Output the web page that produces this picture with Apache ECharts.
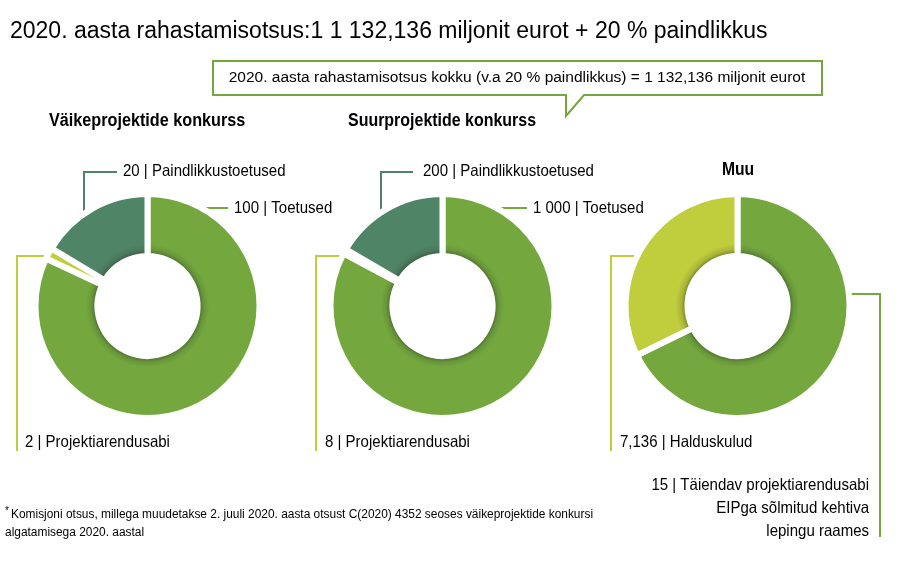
<!DOCTYPE html>
<html><head><meta charset="utf-8">
<script src="https://cdn.jsdelivr.net/npm/echarts@6/dist/echarts.min.js"></script>
<style>html,body{margin:0;padding:0;background:#fff}#c{width:915px;height:565px}</style>
</head><body><div id="c"></div>
<script>
// ---- data ----
const smallNames = ['Toetused', 'Projektiarendusabi', 'Paindlikkustoetused'];
const smallValues = [100, 2, 20];
const smallValueText = ['100', '2', '20'];
const largeNames = ['Toetused', 'Projektiarendusabi', 'Paindlikkustoetused'];
const largeValues = [1000, 8, 200];
const largeValueText = ['1 000', '8', '200'];
const otherNames = ['Täiendav projektiarendusabi', 'Halduskulud'];
const otherValues = [15, 7.136];
const otherValueText = ['15', '7,136'];
const chartTitles = ['Väikeprojektide konkurss', 'Suurprojektide konkurss', 'Muu'];
const mainTitle = '2020. aasta rahastamisotsus:1 1 132,136 miljonit eurot + 20 % paindlikkus';
const calloutText = '2020. aasta rahastamisotsus kokku (v.a 20 % paindlikkus) = 1 132,136 miljonit eurot';
const footnote1 = 'Komisjoni otsus, millega muudetakse 2. juuli 2020. aasta otsust C(2020) 4352 seoses väikeprojektide konkursi';
const footnote2 = 'algatamisega 2020. aastal';
const otherExtra = ['EIPga sõlmitud kehtiva', 'lepingu raames'];

// ---- styles ----
const GREEN = '#74a83f', YELLOW = '#c0cd3c', DARK = '#508466';
const FONT = '"Liberation Sans", "DejaVu Sans", sans-serif';
const R_IN = 50, R_OUT = 112, BORDER = 6;
const centers = [[147.5, 306], [442.5, 306], [737.5, 306]];

function shade(cx, cy, base) {
  const inner = (R_IN + BORDER / 2) / R_OUT;
  return {
    type: 'radial', x: cx, y: cy, r: R_OUT, global: true,
    colorStops: [
      { offset: 0, color: echarts.color.lerp(0.4, [base, '#26301f']) },
      { offset: inner, color: echarts.color.lerp(0.4, [base, '#26301f']) },
      { offset: inner + 0.03, color: echarts.color.lerp(0.15, [base, '#26301f']) },
      { offset: inner + 0.08, color: base },
      { offset: 1, color: base }
    ]
  };
}
function makeData(names, values, cols, c) {
  return names.map((n, i) => ({ name: n, value: values[i], itemStyle: { color: shade(c[0], c[1], cols[i]) } }));
}
function pie(names, values, cols, c) {
  return {
    type: 'pie', center: c, radius: [R_IN, R_OUT], startAngle: 90, clockwise: true,
    silent: true, label: { show: false }, labelLine: { show: false },
    itemStyle: { borderColor: '#ffffff', borderWidth: BORDER },
    data: makeData(names, values, cols, c)
  };
}

function txt(text, x, y, size, sx, opt) {
  opt = opt || {};
  return { type: 'text', silent: true, x: x, y: y, scaleX: sx, scaleY: 1,
    style: { text: text, x: 0, y: 0, font: (opt.weight ? opt.weight + ' ' : '') + size + 'px ' + FONT,
      fill: '#000', align: opt.align || 'left', verticalAlign: 'middle' } };
}
function line(points, color) {
  return { type: 'polyline', silent: true, shape: { points: points }, style: { stroke: color, lineWidth: 2, fill: null } };
}
const lbl = (vt, nm) => vt + ' | ' + nm;
const LS = 16.5, LX = 0.91;

const graphics = [
  txt(mainTitle, 10, 32, 23, 1.0),
  { type: 'polygon', silent: true, shape: { points: [[213, 61], [822, 61], [822, 95], [584, 95], [566, 116], [566, 95], [213, 95]] },
    style: { stroke: GREEN, lineWidth: 2, fill: '#fff' } },
  txt(calloutText, 517, 78, 15.5, 1.0, { align: 'center' }),
  txt(chartTitles[0], 49, 121, 18, 0.90, { weight: 'bold' }),
  txt(chartTitles[1], 348, 121, 18, 0.887, { weight: 'bold' }),
  txt(chartTitles[2], 738, 170, 18, 0.87, { weight: 'bold', align: 'center' }),
  // chart 1
  line([[117, 172], [84, 172], [84, 217]], DARK),
  txt(lbl(smallValueText[2], smallNames[2]), 123, 171, LS, LX),
  line([[197, 208], [228, 208]], GREEN),
  txt(lbl(smallValueText[0], smallNames[0]), 234, 208, LS, LX),
  line([[17, 451], [17, 256], [52, 256]], YELLOW),
  txt(lbl(smallValueText[1], smallNames[1]), 25, 442, LS, LX),
  // chart 2
  line([[413, 172], [381, 172], [381, 216]], DARK),
  txt(lbl(largeValueText[2], largeNames[2]), 423, 171, LS, LX),
  line([[492, 208], [527, 208]], GREEN),
  txt(lbl(largeValueText[0], largeNames[0]), 533, 208, LS, LX),
  line([[316, 451], [316, 256], [352, 256]], YELLOW),
  txt(lbl(largeValueText[1], largeNames[1]), 325, 442, LS, LX),
  // chart 3
  line([[611, 451], [611, 256], [642, 256]], YELLOW),
  txt(lbl(otherValueText[1], otherNames[1]), 620, 442, LS, LX),
  line([[846, 294], [880, 294], [880, 537]], GREEN),
  txt(lbl(otherValueText[0], otherNames[0]), 869, 485, LS, LX, { align: 'right' }),
  txt(otherExtra[0], 869, 508, LS, LX, { align: 'right' }),
  txt(otherExtra[1], 869, 531, LS, LX, { align: 'right' }),
  // footnote
  txt('*', 5, 511, 10, 1),
  txt(footnote1, 11, 515, 12.5, 0.953),
  txt(footnote2, 5, 533, 12.5, 0.953)
];

const chart = echarts.init(document.getElementById('c'), null, { renderer: 'canvas' });
chart.setOption({
  backgroundColor: '#ffffff',
  animation: false,
  series: [
    pie(smallNames, smallValues, [GREEN, YELLOW, DARK], centers[0]),
    pie(largeNames, largeValues, [GREEN, YELLOW, DARK], centers[1]),
    pie(otherNames, otherValues, [GREEN, YELLOW], centers[2])
  ],
  graphic: graphics
});
</script></body></html>
